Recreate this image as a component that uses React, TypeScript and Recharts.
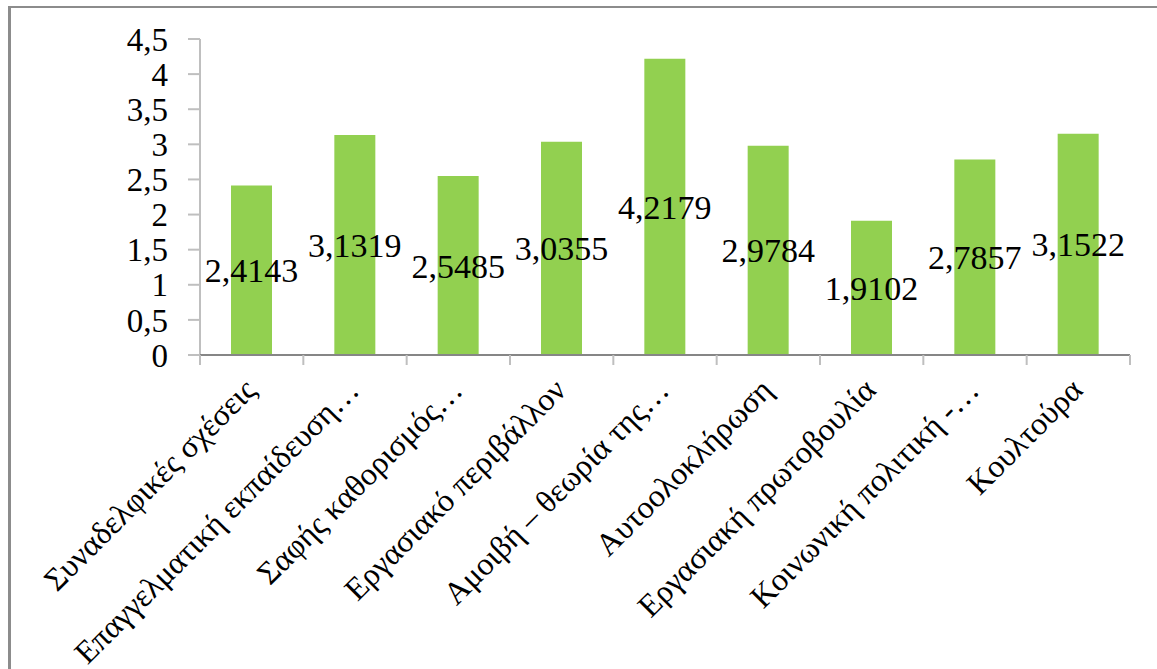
import { BarChart, Bar, XAxis, YAxis, LabelList } from 'recharts'

const categories = [
  'Συναδελφικές σχέσεις',
  'Επαγγελματική εκπαίδευση…',
  'Σαφής καθορισμός…',
  'Εργασιακό περιβάλλον',
  'Αμοιβή – θεωρία της…',
  'Αυτοολοκλήρωση',
  'Εργασιακή πρωτοβουλία',
  'Κοινωνική πολιτική -…',
  'Κουλτούρα',
]
const values = [2.4143, 3.1319, 2.5485, 3.0355, 4.2179, 2.9784, 1.9102, 2.7857, 3.1522]
const yTicks = [0, 0.5, 1, 1.5, 2, 2.5, 3, 3.5, 4, 4.5]

const data = categories.map((name, i) => ({ name, value: values[i] }))

const FONT = '"Liberation Serif", "DejaVu Serif", serif'
const comma = (v: number) => String(v).replace('.', ',')

// Excel-style tick: label rotated -45°, plus tick marks at the category boundaries
function CategoryTick(props: any) {
  const { x, y, payload, index, visibleTicksCount } = props
  const half = payload?.offset ?? 0
  const last = index === visibleTicksCount - 1
  const ax = x + 6
  const ay = y + 37
  return (
    <g>
      <line x1={x - half} x2={x - half} y1={y} y2={y + 10} stroke="#bfbfbf" strokeWidth={2} />
      {last && <line x1={x + half} x2={x + half} y1={y} y2={y + 10} stroke="#bfbfbf" strokeWidth={2} />}
      <text
        x={ax}
        y={ay}
        transform={`rotate(-45 ${ax} ${ay})`}
        textAnchor="end"
        fontFamily={FONT}
        fontSize={32}
        fill="#000"
      >
        {payload.value}
      </text>
    </g>
  )
}

export default function App() {
  return (
    <div style={{ position: 'absolute', left: 0, top: 0, width: 1157, height: 669, overflow: 'hidden', background: '#fff' }}>
      <div
        style={{
          position: 'absolute',
          left: 8,
          top: 6,
          width: 1200,
          height: 700,
          borderLeft: '3px solid #8c8c8c',
          borderTop: '2px solid #8c8c8c',
        }}
      />
      <div style={{ position: 'absolute', left: 0, top: 0 }}>
        <BarChart width={1157} height={669} data={data} margin={{ top: 39, right: 27, left: 100, bottom: 0 }} barCategoryGap="30%">
          <YAxis
            width={100}
            domain={[0, 4.5]}
            ticks={yTicks}
            interval={0}
            tickFormatter={comma}
            axisLine={{ stroke: '#bfbfbf', strokeWidth: 2 }}
            tickLine={{ stroke: '#bfbfbf', strokeWidth: 2 }}
            tickSize={12}
            tickMargin={20}
            tick={{ fontFamily: FONT, fontSize: 33, fill: '#000' }}
          />
          <XAxis
            dataKey="name"
            height={314}
            interval={0}
            tickLine={false}
            tickSize={0}
            tickMargin={0}
            axisLine={{ stroke: '#868686', strokeWidth: 2 }}
            tick={<CategoryTick />}
          />
          <Bar dataKey="value" fill="#92d050" isAnimationActive={false}>
            <LabelList
              dataKey="value"
              position="center"
              formatter={(v: any) => comma(Number(v))}
              style={{ fontFamily: FONT, fontSize: 34, fill: '#000' }}
            />
          </Bar>
        </BarChart>
      </div>
    </div>
  )
}
